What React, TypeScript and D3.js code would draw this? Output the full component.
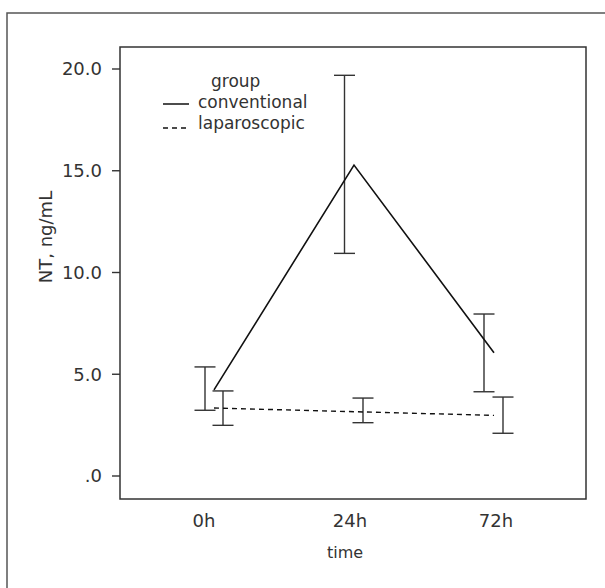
import React from 'react';
import * as d3 from 'd3';

const times = ['0h', '24h', '72h'];
const yTicks = [0, 5, 10, 15, 20];

const conventionalMean = [4.23, 15.28, 6.06];
const conventionalLow = [3.23, 10.94, 4.14];
const conventionalHigh = [5.36, 19.69, 7.96];

const laparoscopicMean = [3.34, 3.16, 2.98];
const laparoscopicLow = [2.49, 2.62, 2.1];
const laparoscopicHigh = [4.18, 3.83, 3.88];

const width = 605;
const height = 588;
const plot = { left: 120, right: 586, top: 47, bottom: 499 };
const font = 'DejaVu Sans, sans-serif';
const textColor = '#333';

const App: React.FC = () => {
  const y = d3.scaleLinear().domain([0, 20]).range([476, 69]);

  // SPSS draws labels, lines and the two sets of error bars on slightly shifted x positions
  const xLabel = d3.scalePoint<string>().domain(times).range([204, 496]);
  const xLine = d3.scalePoint<string>().domain(times).range([214, 494]);
  const xConvErr = d3.scalePoint<string>().domain(times).range([205, 484]);
  const xLapErr = d3.scalePoint<string>().domain(times).range([223, 503]);

  const line = (scale: d3.ScalePoint<string>, vals: number[]) =>
    d3
      .line<string>()
      .x((d) => scale(d)!)
      .y((d, i) => y(vals[i]))(times)!;

  const errorBars = (scale: d3.ScalePoint<string>, lo: number[], hi: number[], key: string) =>
    times.map((t, i) => {
      const cx = scale(t)!;
      const half = 10.5;
      return (
        <g key={key + t} stroke="#333" strokeWidth={1.4}>
          <line x1={cx} x2={cx} y1={y(lo[i])} y2={y(hi[i])} />
          <line x1={cx - half} x2={cx + half} y1={y(hi[i])} y2={y(hi[i])} />
          <line x1={cx - half} x2={cx + half} y1={y(lo[i])} y2={y(lo[i])} />
        </g>
      );
    });

  return (
    <svg
      width={width}
      height={height}
      style={{ position: 'absolute', left: 0, top: 0, background: '#fff' }}
      fontFamily={font}
    >
      <rect x={7} y={13} width={700} height={700} fill="none" stroke="#555" strokeWidth={1.5} />
      <rect
        x={plot.left}
        y={plot.top}
        width={plot.right - plot.left}
        height={plot.bottom - plot.top}
        fill="none"
        stroke="#333"
        strokeWidth={1.5}
      />

      {yTicks.map((t) => (
        <g key={t}>
          <line x1={112} x2={plot.left} y1={y(t)} y2={y(t)} stroke="#333" strokeWidth={1.4} />
          <text x={102} y={y(t)} dy="0.36em" textAnchor="end" fontSize={18} fill={textColor}>
            {t === 0 ? '.0' : t.toFixed(1)}
          </text>
        </g>
      ))}

      {times.map((t) => (
        <text key={t} x={xLabel(t)} y={527} textAnchor="middle" fontSize={18} fill={textColor}>
          {t}
        </text>
      ))}

      <text x={345} y={558} textAnchor="middle" fontSize={16} fill={textColor}>
        time
      </text>
      <text
        transform="translate(52, 237) rotate(-90)"
        textAnchor="middle"
        fontSize={18}
        fill={textColor}
      >
        NT, ng/mL
      </text>

      {errorBars(xConvErr, conventionalLow, conventionalHigh, 'c')}
      {errorBars(xLapErr, laparoscopicLow, laparoscopicHigh, 'l')}

      <path d={line(xLine, conventionalMean)} fill="none" stroke="#111" strokeWidth={1.6} />
      <path
        d={line(xLine, laparoscopicMean)}
        fill="none"
        stroke="#111"
        strokeWidth={1.4}
        strokeDasharray="5,4"
      />

      <g fontSize={17} fill={textColor}>
        <text x={211} y={87}>group</text>
        <line x1={163} x2={189} y1={104} y2={104} stroke="#111" strokeWidth={1.5} />
        <text x={198} y={108}>conventional</text>
        <line x1={163} x2={189} y1={128} y2={128} stroke="#111" strokeWidth={1.4} strokeDasharray="5,4" />
        <text x={198} y={129}>laparoscopic</text>
      </g>
    </svg>
  );
};

export default App;
